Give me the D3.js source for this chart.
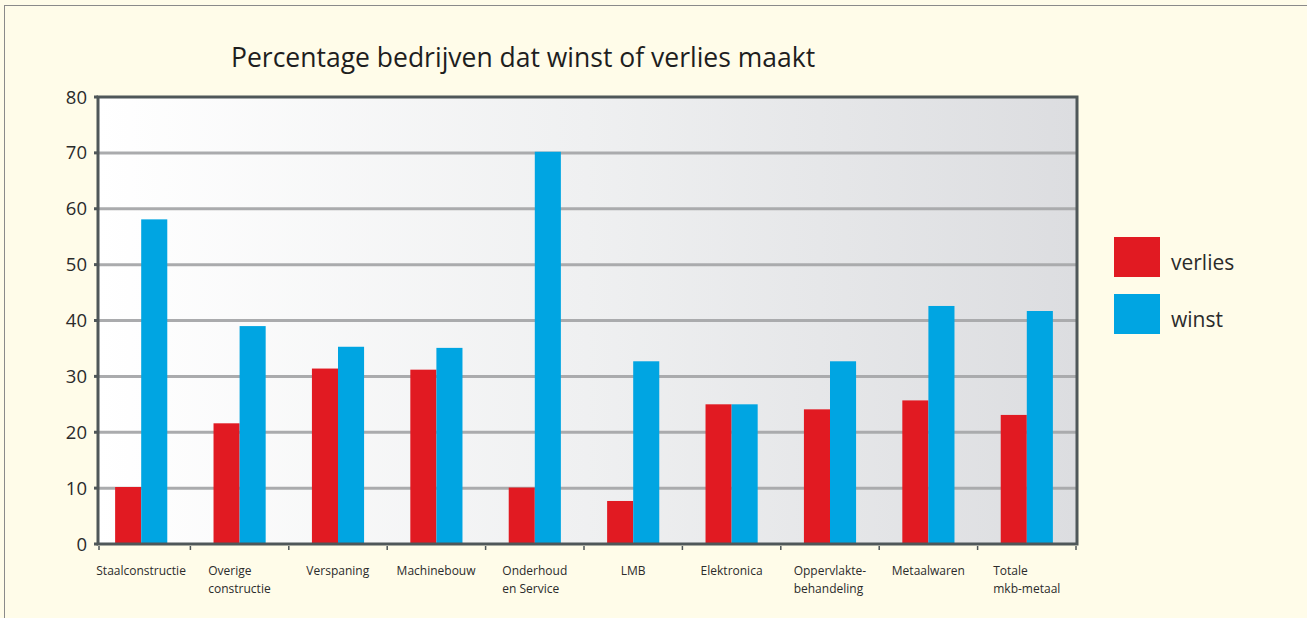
<!DOCTYPE html>
<html>
<head>
<meta charset="utf-8">
<script src="https://cdn.jsdelivr.net/npm/d3@7"></script>
<style>
    body { margin: 0; background: #fffce9; }
    text { font-family: 'Open Sans', sans-serif; fill: #2b2b2b; }
</style>
</head>
<body>
<svg id="chart" width="1307" height="618"></svg>
<script>
const categories = [
    ['Staalconstructie'],
    ['Overige', 'constructie'],
    ['Verspaning'],
    ['Machinebouw'],
    ['Onderhoud', 'en Service'],
    ['LMB'],
    ['Elektronica'],
    ['Oppervlakte-', 'behandeling'],
    ['Metaalwaren'],
    ['Totale', 'mkb-metaal']
];
const series = ['verlies', 'winst'];
const verlies = [10.2, 21.6, 31.4, 31.2, 10.1, 7.7, 25, 24.1, 25.7, 23.1];
const winst = [58.1, 39, 35.3, 35.1, 70.2, 32.7, 25, 32.7, 42.6, 41.7];
const yTicks = [0, 10, 20, 30, 40, 50, 60, 70, 80];

const palette = {
    'verlies': '#e11a22',
    'winst': '#00a5e2'
};

const svg = d3.select('#chart');
const plot = {left: 98, right: 1077, top: 97, bottom: 544};

// page frame
svg.append('rect')
    .attr('x', 4.5).attr('y', 5.5)
    .attr('width', 1320).attr('height', 630)
    .attr('fill', '#fffce9')
    .attr('stroke', '#8a8a8a');

const defs = svg.append('defs');
const grad = defs.append('linearGradient').attr('id', 'bg');
grad.append('stop').attr('offset', '0%').attr('stop-color', '#ffffff');
grad.append('stop').attr('offset', '50%').attr('stop-color', '#eff0f1');
grad.append('stop').attr('offset', '100%').attr('stop-color', '#dcdde0');

const keys = categories.map(c => c.join(' '));

const x = d3.scaleBand()
    .domain(keys)
    .range([92, 1076])
    .paddingInner(0.47)
    .paddingOuter(0.235);
const xs = d3.scaleBand()
    .domain(series)
    .range([0, x.bandwidth()]);
const y = d3.scaleLinear()
    .domain([0, 80])
    .range([plot.bottom, plot.top]);

svg.append('rect')
    .attr('x', plot.left).attr('y', plot.top)
    .attr('width', plot.right - plot.left)
    .attr('height', plot.bottom - plot.top)
    .attr('fill', 'url(#bg)');

// gridlines
svg.append('g').selectAll('line')
    .data(yTicks.filter(t => t > 0 && t < 80))
    .enter()
    .append('line')
        .attr('x1', plot.left).attr('x2', plot.right)
        .attr('y1', d => y(d)).attr('y2', d => y(d))
        .attr('stroke', '#aaabad')
        .attr('stroke-width', 3);

// bars
const rows = keys.map((k, i) => ({key: k, verlies: verlies[i], winst: winst[i]}));
const groups = svg.append('g').selectAll('g')
    .data(rows)
    .enter()
    .append('g')
        .attr('transform', d => 'translate(' + x(d.key) + ',0)');

groups.selectAll('rect')
    .data(d => series.map(s => ({series: s, value: d[s]})))
    .enter()
    .append('rect')
        .attr('x', d => xs(d.series))
        .attr('y', d => y(d.value))
        .attr('width', xs.bandwidth())
        .attr('height', d => y(0) - y(d.value))
        .attr('fill', d => palette[d.series]);

// frame
svg.append('rect')
    .attr('x', plot.left).attr('y', plot.top)
    .attr('width', plot.right - plot.left)
    .attr('height', plot.bottom - plot.top)
    .attr('fill', 'none')
    .attr('stroke', '#4f5759')
    .attr('stroke-width', 3);

// y ticks + labels
const yAxis = svg.append('g');
yAxis.selectAll('line')
    .data(yTicks)
    .enter()
    .append('line')
        .attr('x1', plot.left - 4).attr('x2', plot.left)
        .attr('y1', d => y(d)).attr('y2', d => y(d))
        .attr('stroke', '#4f5759')
        .attr('stroke-width', 3);
yAxis.selectAll('text')
    .data(yTicks)
    .enter()
    .append('text')
        .attr('x', 87)
        .attr('y', d => y(d) + 6.5)
        .attr('text-anchor', 'end')
        .style('font-size', '18.5px')
        .text(d => d);

// x ticks at band boundaries
const step = x.step();
const bounds = d3.range(keys.length + 1).map(i => Math.max(plot.left + 1, x.range()[0] + i * step));
svg.append('g').selectAll('line')
    .data(bounds)
    .enter()
    .append('line')
        .attr('x1', d => d).attr('x2', d => d)
        .attr('y1', plot.bottom + 2).attr('y2', plot.bottom + 6)
        .attr('stroke', '#4f5759')
        .attr('stroke-width', 1.5);

// category labels, block centered under the group
const labels = svg.append('g').selectAll('text')
    .data(categories)
    .enter()
    .append('text')
        .style('font-size', '12px');
labels.selectAll('tspan')
    .data(d => d)
    .enter()
    .append('tspan')
        .attr('x', 0)
        .attr('dy', (d, i) => i == 0 ? 0 : 18)
        .text(d => d);
labels.attr('transform', function(d) {
    const w = this.getBBox().width;
    const cx = x(d.join(' ')) + x.bandwidth() / 2;
    return 'translate(' + (cx - w / 2) + ',575)';
});

// title
svg.append('text')
    .attr('x', 231)
    .attr('y', 67)
    .style('font-size', '26.5px')
    .style('fill', '#1e1e1e')
    .text('Percentage bedrijven dat winst of verlies maakt');

// legend
const legend = svg.append('g').selectAll('g')
    .data(series)
    .enter()
    .append('g')
        .attr('transform', (d, i) => 'translate(1114,' + (237 + i * 57) + ')');
legend.append('rect')
    .attr('width', 46).attr('height', 40)
    .attr('fill', d => palette[d]);
legend.append('text')
    .attr('x', 57).attr('y', 33)
    .style('font-size', '21px')
    .text(d => d);
</script>
</body>
</html>
